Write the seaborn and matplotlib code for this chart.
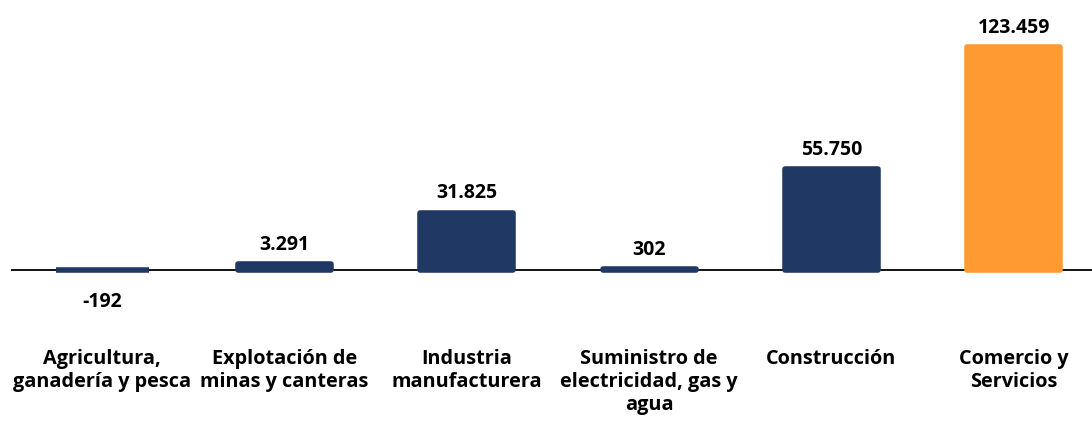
import seaborn as sns
import matplotlib.pyplot as plt
import pandas as pd

# Sector data
categories = [
    "Agricultura,\nganadería y pesca",
    "Explotación de\nminas y canteras",
    "Industria\nmanufacturera",
    "Suministro de\nelectricidad, gas y\nagua",
    "Construcción",
    "Comercio y\nServicios",
]
values = [-192, 3291, 31825, 302, 55750, 123459]
bar_colors = ["#203864", "#203864", "#203864", "#203864", "#203864", "#FF9A33"]

df = pd.DataFrame({"sector": categories, "valor": values})

sns.set_style("white")
plt.rcParams["font.family"] = ["Open Sans", "DejaVu Sans"]

fig = plt.figure(figsize=(10.92, 4.30), dpi=100)
ax = fig.add_axes([11 / 1092, 130 / 430, 1094 / 1092, 290 / 430])

sns.barplot(
    data=df,
    x="sector",
    y="valor",
    hue="sector",
    palette=bar_colors,
    saturation=1,
    legend=False,
    width=0.51,
    ax=ax,
)

# rounded look: outline in the same colour with round joins
for patch, c in zip(ax.patches, bar_colors):
    patch.set_edgecolor(c)
    patch.set_linewidth(4)
    patch.set_joinstyle("round")


def fmt(v):
    return f"{v:,}".replace(",", ".")


for i, v in enumerate(values):
    if v >= 0:
        ax.annotate(fmt(v), (i, v), xytext=(0, 14), textcoords="offset points",
                    ha="center", va="center", fontsize=14, fontweight="bold",
                    color="black")
    else:
        ax.annotate(fmt(v), (i, 0), xytext=(0, -23), textcoords="offset points",
                    ha="center", va="center", fontsize=14, fontweight="bold",
                    color="black")

ax.axhline(0, color="black", linewidth=1.3, zorder=0.5)
ax.set_ylim(-16609, 143943)
ax.set_xlim(-0.5, 5.5)
ax.set_yticks([])
ax.set_xlabel("")
ax.set_ylabel("")
ax.tick_params(axis="x", length=0, pad=35, labelcolor="black")
ax.set_xticks(range(len(categories)))
ax.set_xticklabels(categories, fontsize=14.3, fontweight="bold", linespacing=1.2)
sns.despine(ax=ax, left=True, bottom=True)

fig.savefig("out.png", dpi=100)
